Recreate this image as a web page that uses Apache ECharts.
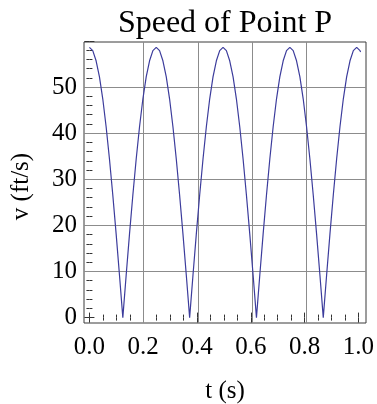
<!DOCTYPE html>
<html>
<head>
<meta charset="utf-8">
<script src="https://cdn.jsdelivr.net/npm/echarts@6/dist/echarts.min.js"></script>
<style>
html,body{margin:0;padding:0;background:#fff;}
#chart{width:377px;height:404px;}
</style>
</head>
<body>
<div id="chart"></div>
<script>
// time samples (s)
const tValues = [
  0, 0.0123, 0.0246, 0.0370, 0.0493, 0.0616, 0.0739, 0.0862, 0.0986, 0.1109,
  0.1232, 0.1355, 0.1478, 0.1602, 0.1725, 0.1848, 0.1971, 0.2094, 0.2218, 0.2341,
  0.2464, 0.2587, 0.2710, 0.2834, 0.2957, 0.3080, 0.3203, 0.3326, 0.3450, 0.3573,
  0.3696, 0.3819, 0.3942, 0.4066, 0.4189, 0.4312, 0.4435, 0.4558, 0.4682, 0.4805,
  0.4928, 0.5051, 0.5174, 0.5298, 0.5421, 0.5544, 0.5667, 0.5790, 0.5914, 0.6037,
  0.6160, 0.6283, 0.6406, 0.6530, 0.6653, 0.6776, 0.6899, 0.7022, 0.7146, 0.7269,
  0.7392, 0.7515, 0.7638, 0.7762, 0.7885, 0.8008, 0.8131, 0.8254, 0.8378, 0.8501,
  0.8624, 0.8747, 0.8870, 0.8994, 0.9117, 0.9240, 0.9363, 0.9486, 0.9610, 0.9733,
  0.9856, 0.9979, 1.0
];
// speed of point P (ft/s)
const speedValues = [
  58.6, 57.9, 55.7, 52.2, 47.4, 41.4, 34.4, 26.6, 18.1, 9.2,
  0, 9.2, 18.1, 26.6, 34.4, 41.4, 47.4, 52.2, 55.7, 57.9,
  58.6, 57.9, 55.7, 52.2, 47.4, 41.4, 34.4, 26.6, 18.1, 9.2,
  0, 9.2, 18.1, 26.6, 34.4, 41.4, 47.4, 52.2, 55.7, 57.9,
  58.6, 57.9, 55.7, 52.2, 47.4, 41.4, 34.4, 26.6, 18.1, 9.2,
  0, 9.2, 18.1, 26.6, 34.4, 41.4, 47.4, 52.2, 55.7, 57.9,
  58.6, 57.9, 55.7, 52.2, 47.4, 41.4, 34.4, 26.6, 18.1, 9.2,
  0, 9.2, 18.1, 26.6, 34.4, 41.4, 47.4, 52.2, 55.7, 57.9,
  58.6, 57.9, 57.6
];
// grid line positions
const xGridLines = [0.2, 0.4, 0.6, 0.8];
const yGridLines = [10, 20, 30, 40, 50];
// axis ranges
const xRange = [-0.02, 1.02];
const yRange = [-1.17, 59.77];
const xTickRange = [0, 1];
const yTickRange = [0, 60];
const xTickStep = 0.2;
const yTickStep = 10;

const titleText = 'Speed of Point P';
const xName = 't (s)';
const yName = 'v (ft/s)';

const FONT = '"Liberation Serif", "DejaVu Serif", serif';

// frame geometry
const F = {left: 84, top: 42, width: 282, height: 281};
const pxX = F.width / (xRange[1] - xRange[0]);
const pxY = F.height / (yRange[1] - yRange[0]);
const g1Left = F.left + (xTickRange[0] - xRange[0]) * pxX;
const g1Width = (xTickRange[1] - xTickRange[0]) * pxX;
const g1Top = F.top + (yRange[1] - yTickRange[1]) * pxY;
const g1Height = (yTickRange[1] - yTickRange[0]) * pxY;
const frameBottom = F.top + F.height;
const frameRight = F.left + F.width;
const offBottom = frameBottom - (g1Top + g1Height);
const offTop = g1Top - F.top; // negative means inward
const offLeft = g1Left - F.left;
const offRight = frameRight - (g1Left + g1Width);

const tickColor = '#333';
const hidden = {
  axisLine: {show: false}, axisTick: {show: false},
  axisLabel: {show: false}, splitLine: {show: false}
};

const chart = echarts.init(document.getElementById('chart'), null, {renderer: 'canvas'});

const data = tValues.map((t, i) => [t, speedValues[i]]);

const option = {
  animation: false,
  backgroundColor: '#fff',
  grid: [
    {left: F.left, top: F.top, width: F.width, height: F.height, show: true,
     borderColor: '#3a3a3a', borderWidth: 1, backgroundColor: 'transparent', containLabel: false},
    {left: g1Left, top: g1Top, width: g1Width, height: g1Height, show: false, containLabel: false}
  ],
  xAxis: [
    Object.assign({type: 'value', gridIndex: 0, min: xRange[0], max: xRange[1]}, hidden),
    {
      type: 'value', gridIndex: 1, min: xTickRange[0], max: xTickRange[1], interval: xTickStep,
      position: 'bottom', offset: offBottom,
      axisLine: {show: false},
      axisTick: {show: true, inside: true, length: 5, lineStyle: {color: tickColor, width: 1}},
      minorTick: {show: true, splitNumber: 4, length: 3, lineStyle: {color: tickColor, width: 1}},
      axisLabel: {show: true, margin: 12, fontSize: 25, fontFamily: FONT, color: '#000',
                  formatter: v => v.toFixed(1)},
      splitLine: {show: false}
    },
    {
      type: 'value', gridIndex: 1, min: xTickRange[0], max: xTickRange[1], interval: xTickStep,
      position: 'top', offset: -offTop,
      axisLine: {show: false},
      axisTick: {show: true, inside: true, length: 5, lineStyle: {color: tickColor, width: 1}},
      minorTick: {show: true, splitNumber: 4, length: 3, lineStyle: {color: tickColor, width: 1}},
      axisLabel: {show: false},
      splitLine: {show: false}
    }
  ],
  yAxis: [
    Object.assign({type: 'value', gridIndex: 0, min: yRange[0], max: yRange[1]}, hidden),
    {
      type: 'value', gridIndex: 1, min: yTickRange[0], max: yTickRange[1], interval: yTickStep,
      position: 'left', offset: offLeft,
      axisLine: {show: false},
      axisTick: {show: true, inside: true, length: 5, lineStyle: {color: tickColor, width: 1}},
      minorTick: {show: true, splitNumber: 5, length: 3, lineStyle: {color: tickColor, width: 1}},
      axisLabel: {show: true, margin: 7, fontSize: 25, fontFamily: FONT, color: '#000',
                  formatter: v => (v >= yTickRange[1] ? '' : String(v))},
      splitLine: {show: false}
    },
    {
      type: 'value', gridIndex: 1, min: yTickRange[0], max: yTickRange[1], interval: yTickStep,
      position: 'right', offset: offRight,
      axisLine: {show: false},
      axisTick: {show: true, inside: true, length: 5, lineStyle: {color: tickColor, width: 1}},
      minorTick: {show: true, splitNumber: 5, length: 3, lineStyle: {color: tickColor, width: 1}},
      axisLabel: {show: false},
      splitLine: {show: false}
    }
  ],
  series: [
    {
      type: 'line', xAxisIndex: 0, yAxisIndex: 0, data: [], z: 1,
      silent: true,
      markLine: {
        silent: true, symbol: ['none', 'none'], label: {show: false},
        lineStyle: {color: '#8c8c8c', type: 'solid', width: 1},
        emphasis: {disabled: true},
        data: xGridLines.map(v => ({xAxis: v})).concat(yGridLines.map(v => ({yAxis: v})))
      }
    },
    {
      type: 'line', xAxisIndex: 0, yAxisIndex: 0, data: data, z: 5,
      showSymbol: false, symbol: 'none', smooth: false,
      lineStyle: {color: '#3c3c9c', width: 1.2},
      silent: true
    }
  ],
  graphic: [
    {type: 'text', x: (F.left + frameRight) / 2, y: 23.5, silent: true,
     style: {text: titleText, fontSize: 32, fontFamily: FONT, fill: '#000',
             textAlign: 'center', textVerticalAlign: 'middle'}},
    {type: 'text', x: (F.left + frameRight) / 2, y: 391.5, silent: true,
     style: {text: xName, fontSize: 25, fontFamily: FONT, fill: '#000',
             textAlign: 'center', textVerticalAlign: 'middle'}},
    {type: 'text', x: 21, y: 186.5, rotation: Math.PI / 2, silent: true,
     style: {text: yName, fontSize: 25, fontFamily: FONT, fill: '#000',
             textAlign: 'center', textVerticalAlign: 'middle'}}
  ]
};
chart.setOption(option);
</script>
</body>
</html>
